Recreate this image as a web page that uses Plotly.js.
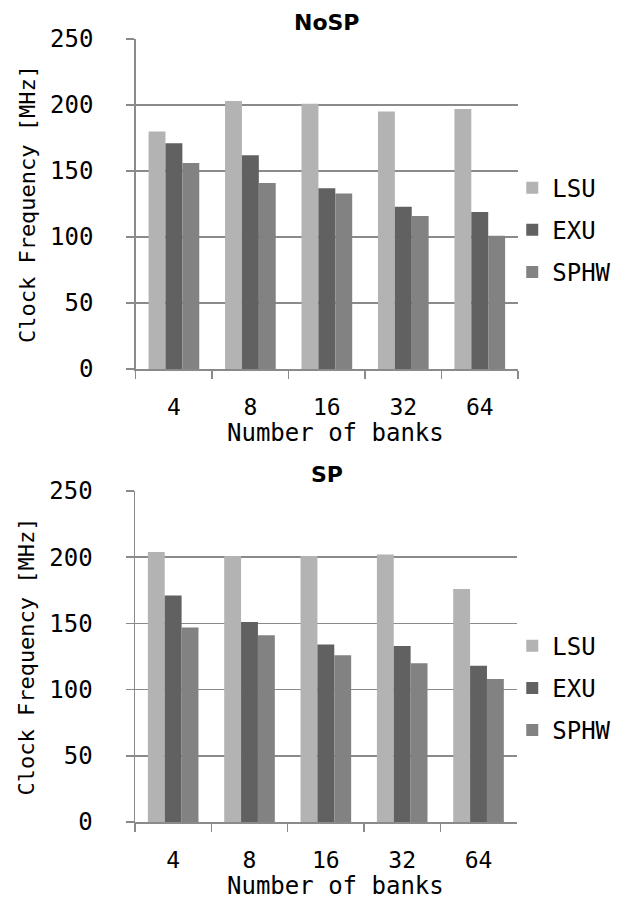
<!DOCTYPE html>
<html>
<head>
<meta charset="utf-8">
<script src="https://cdn.plot.ly/plotly-3.0.1.min.js"></script>
<style>html,body{margin:0;padding:0;background:#fff;}#chart{width:619px;height:901px;}</style>
</head>
<body>
<div id="chart"></div>
<script>
const banks = ['4', '8', '16', '32', '64'];
const seriesNames = ['LSU', 'EXU', 'SPHW'];
const seriesColors = ['#b3b3b3', '#616161', '#828282'];

// NoSP panel
const noSP_LSU  = [180, 203, 201, 195, 197];
const noSP_EXU  = [171, 162, 137, 123, 119];
const noSP_SPHW = [156, 141, 133, 116, 101];

// SP panel
const sp_LSU  = [204, 201, 201, 202, 176];
const sp_EXU  = [171, 151, 134, 133, 118];
const sp_SPHW = [147, 141, 126, 120, 108];

const MONO = 'DejaVu Sans Mono';
const GRID = '#8a8a8a';

function bars(vals, i, xa, ya, leg) {
  return {
    type: 'bar', x: banks, y: vals, name: seriesNames[i],
    marker: {color: seriesColors[i], line: {width: 0}},
    xaxis: xa, yaxis: ya, legend: leg, legendgroup: leg + seriesNames[i],
    hoverinfo: 'skip'
  };
}

const data = [
  bars(noSP_LSU, 0, 'x', 'y', 'legend'),
  bars(noSP_EXU, 1, 'x', 'y', 'legend'),
  bars(noSP_SPHW, 2, 'x', 'y', 'legend'),
  bars(sp_LSU, 0, 'x2', 'y2', 'legend2'),
  bars(sp_EXU, 1, 'x2', 'y2', 'legend2'),
  bars(sp_SPHW, 2, 'x2', 'y2', 'legend2')
];

function xaxis(domain, anchor) {
  return {
    domain: domain, anchor: anchor, type: 'category',
    showline: true, linecolor: GRID, linewidth: 1.5,
    ticks: 'outside', tickson: 'boundaries', ticklen: 8, tickcolor: GRID, tickwidth: 1.5,
    ticklabelstandoff: 17,
    tickfont: {family: MONO, size: 23, color: '#000'},
    showgrid: false, zeroline: false, fixedrange: true
  };
}
function yaxis(domain, anchor) {
  return {
    domain: domain, anchor: anchor, range: [0, 250], dtick: 50,
    showline: true, linecolor: GRID, linewidth: 1.5,
    ticks: 'outside', ticklen: 8, tickcolor: GRID, tickwidth: 1.5,
    ticklabelstandoff: 28,
    tickfont: {family: MONO, size: 24, color: '#000'},
    showgrid: true, gridcolor: GRID, gridwidth: 1.5, zeroline: false, fixedrange: true,
    title: {text: 'Clock Frequency [MHz]', font: {family: MONO, size: 22, color: '#000'}, standoff: 8}
  };
}

const legendBase = {
  x: 0.985, xanchor: 'left', yanchor: 'middle',
  font: {family: MONO, size: 24, color: '#000'},
  bgcolor: 'rgba(0,0,0,0)', borderwidth: 0, tracegroupgap: 8,
  itemclick: false, itemdoubleclick: false
};

const titleFont = {family: 'DejaVu Sans', size: 22, color: '#000'};
const xTitleFont = {family: MONO, size: 24, color: '#000'};

const layout = {
  width: 619, height: 901,
  margin: {l: 135, r: 101, t: 39, b: 79, autoexpand: false},
  paper_bgcolor: '#fff', plot_bgcolor: '#fff',
  barmode: 'group', bargap: 0.337, bargroupgap: 0,
  showlegend: true,
  xaxis: xaxis([0.0018, 1], 'y'),
  yaxis: yaxis([0.5785, 1], 'x'),
  xaxis2: xaxis([0, 0.9966], 'y2'),
  yaxis2: yaxis([0, 0.4227], 'x2'),
  legend: Object.assign({}, legendBase, {y: 0.756}),
  legend2: Object.assign({}, legendBase, {y: 0.171}),
  annotations: [
    {text: '<b>NoSP</b>', xref: 'paper', yref: 'paper', x: 0.5, y: 1.0217, xanchor: 'center', yanchor: 'middle', showarrow: false, font: titleFont},
    {text: '<b>SP</b>', xref: 'paper', yref: 'paper', x: 0.5, y: 0.4444, xanchor: 'center', yanchor: 'middle', showarrow: false, font: titleFont},
    {text: 'Number of banks', xref: 'paper', yref: 'paper', x: 0.523, y: 0.4968, xanchor: 'center', yanchor: 'middle', showarrow: false, font: xTitleFont},
    {text: 'Number of banks', xref: 'paper', yref: 'paper', x: 0.523, y: -0.0818, xanchor: 'center', yanchor: 'middle', showarrow: false, font: xTitleFont}
  ]
};

Plotly.newPlot('chart', data, layout, {displayModeBar: false, staticPlot: true});
</script>
</body>
</html>
